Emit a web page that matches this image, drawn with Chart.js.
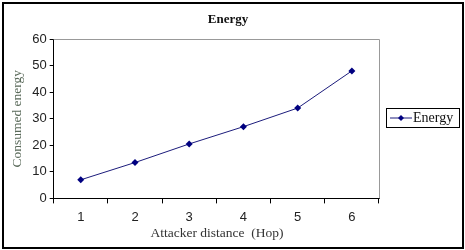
<!DOCTYPE html>
<html>
<head>
<meta charset="utf-8">
<script src="https://cdn.jsdelivr.net/npm/chart.js@4/dist/chart.umd.min.js"></script>
<style>
  html, body { margin: 0; padding: 0; background: #fff; }
  #wrap { width: 465px; height: 250px; position: relative; }
</style>
</head>
<body>
<div id="wrap"><canvas id="chart" width="465" height="250"></canvas></div>
<script>
const hops = ['1', '2', '3', '4', '5', '6'];
const energy = [7, 13.5, 20.5, 27, 34, 48];
const yTicks = [0, 10, 20, 30, 40, 50, 60];

const serif = "'Liberation Serif', 'Times New Roman', serif";
const sans = "'Liberation Sans', Arial, sans-serif";
const lineColor = '#1c1c7c';

// frame round the whole picture, titles, gray plot box, and the legend on the right
const decor = {
    id: 'decor',
    beforeDraw(chart) {
        const ctx = chart.ctx;
        ctx.save();
        ctx.fillStyle = '#fff';
        ctx.fillRect(0, 0, chart.width, chart.height);
        ctx.restore();
    },
    afterDraw(chart) {
        const ctx = chart.ctx;
        const a = chart.chartArea;
        ctx.save();
        ctx.strokeStyle = '#999';
        ctx.lineWidth = 1;
        ctx.beginPath();
        ctx.moveTo(a.left, a.top + 0.5);
        ctx.lineTo(Math.round(a.right) + 0.5, a.top + 0.5);
        ctx.lineTo(Math.round(a.right) + 0.5, a.bottom);
        ctx.stroke();

        ctx.strokeStyle = '#000';
        ctx.lineWidth = 2;
        ctx.strokeRect(3, 3, chart.width - 5, chart.height - 5);

        // chart title and x axis title
        ctx.fillStyle = '#111';
        ctx.font = 'bold 13px ' + serif;
        ctx.textAlign = 'center';
        ctx.textBaseline = 'middle';
        ctx.fillText('Energy', 228, 20);
        ctx.fillStyle = '#333';
        ctx.font = '13.5px ' + serif;
        ctx.fillText('Attacker distance  (Hop)', 217, 233);

        // legend
        ctx.lineWidth = 1;
        ctx.strokeRect(386.5, 108.5, 73, 19);
        ctx.strokeStyle = lineColor;
        ctx.beginPath();
        ctx.moveTo(390, 118);
        ctx.lineTo(412, 118);
        ctx.stroke();
        ctx.fillStyle = '#000080';
        ctx.beginPath();
        ctx.moveTo(401, 115);
        ctx.lineTo(404, 118);
        ctx.lineTo(401, 121);
        ctx.lineTo(398, 118);
        ctx.closePath();
        ctx.fill();
        ctx.fillStyle = '#111';
        ctx.textAlign = 'left';
        ctx.font = '14px ' + serif;
        ctx.fillText('Energy', 413, 118);
        ctx.restore();
    }
};

new Chart(document.getElementById('chart'), {
    type: 'line',
    data: {
        labels: hops,
        datasets: [{
            label: 'Energy',
            data: energy,
            borderColor: lineColor,
            borderWidth: 1,
            backgroundColor: '#000080',
            pointStyle: 'rectRot',
            pointRadius: 3.5,
            pointBorderWidth: 0,
            tension: 0
        }]
    },
    options: {
        responsive: false,
        animation: false,
        layout: { padding: { left: 9, right: 86, top: 39, bottom: 19 } },
        plugins: {
            legend: { display: false },
            tooltip: { enabled: false },
            title: { display: false }
        },
        scales: {
            x: {
                offset: true,
                grid: { offset: true, drawOnChartArea: false, tickLength: 5, color: '#000' },
                border: { color: '#000', width: 1 },
                ticks: { color: '#222', font: { family: sans, size: 13 }, padding: 6 },
                title: { display: false }
            },
            y: {
                min: 0,
                max: 60,
                afterBuildTicks(scale) {
                    scale.ticks = yTicks.map(v => ({ value: v }));
                },
                grid: { drawOnChartArea: false, tickLength: 4, color: '#000' },
                border: { color: '#000', width: 1 },
                ticks: { color: '#222', font: { family: sans, size: 13 }, padding: 3 },
                title: {
                    display: true,
                    text: 'Consumed energy',
                    color: '#5a6a5a',
                    font: { family: serif, size: 13.5 },
                    padding: { top: 0, bottom: 4 }
                }
            }
        }
    },
    plugins: [decor]
});
</script>
</body>
</html>
